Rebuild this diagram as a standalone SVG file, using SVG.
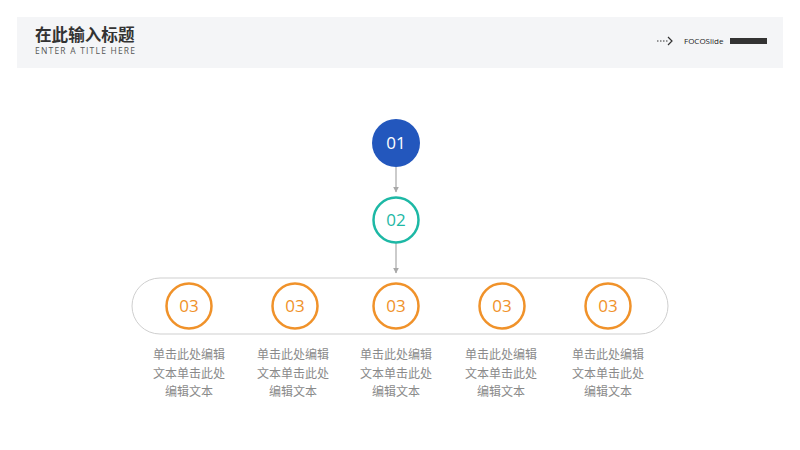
<svg xmlns="http://www.w3.org/2000/svg" width="800" height="450" viewBox="0 0 800 450">
<style>
.cn{font-family:"Noto Sans CJK SC","Noto Sans",sans-serif;}
.num{font-family:"Open Sans","Noto Sans",sans-serif;font-size:17px;text-anchor:middle;}
.desc{font-family:"Noto Sans CJK SC",sans-serif;font-size:12px;fill:#8a8a8a;text-anchor:middle;}
.o3{fill:#fff;stroke:#f0922a;stroke-width:2.5;}
.conn{stroke:#a8a8a8;stroke-width:1.2;fill:none;marker-end:url(#ah);}
</style>
<defs>
<marker id="ah" viewBox="0 0 10 10" refX="9" refY="5" markerWidth="6" markerHeight="6" markerUnits="userSpaceOnUse" orient="auto">
<path d="M0,0 L10,5 L0,10 z" fill="#a8a8a8"/>
</marker>
</defs>
<rect width="800" height="450" fill="#fff"/>
<g id="header">
<rect x="17" y="17" width="766" height="51" fill="#f4f5f7"/>
<text x="35" y="41" class="cn" font-size="16.6" font-weight="bold" fill="#333">在此输入标题</text>
<text x="35" y="54" font-family="'Open Sans','Noto Sans',sans-serif" font-size="8.5" fill="#555" letter-spacing="1.2">ENTER A TITLE HERE</text>
<path d="M657,41 H668" stroke="#333" stroke-width="1" stroke-dasharray="1.5,1.5"/>
<path d="M668,37 L672,41 L668,45" stroke="#333" stroke-width="1.2" fill="none"/>
<text x="684" y="44" font-family="'Open Sans','Noto Sans',sans-serif" font-size="8" fill="#222">FOCOSlide</text>
<rect x="730" y="38" width="37" height="6" fill="#333"/>
</g>
<g id="connectors">
<line class="conn" x1="396" y1="167" x2="396" y2="192"/>
<line class="conn" x1="396" y1="243" x2="396" y2="273"/>
</g>
<g id="node01">
<circle cx="396" cy="143" r="24" fill="#2357bd"/>
<text x="396" y="149" class="num" fill="#fff">01</text>
</g>
<g id="node02">
<circle cx="396" cy="220" r="22.5" fill="#fff" stroke="#1db8a5" stroke-width="2.5"/>
<text x="396" y="226" class="num" fill="#1db8a5">02</text>
</g>
<g id="container">
<rect x="132" y="278" width="536" height="56" rx="28" fill="#fff" stroke="#cfcfcf" stroke-width="1"/>
</g>
<g id="node03a">
<circle class="o3" cx="189" cy="306" r="22.5"/>
<text x="189" y="312" class="num" fill="#f0922a">03</text>
<text class="desc" x="189" y="359">单击此处编辑</text>
<text class="desc" x="189" y="378">文本单击此处</text>
<text class="desc" x="189" y="396">编辑文本</text>
</g>
<g id="node03b">
<circle class="o3" cx="295" cy="306" r="22.5"/>
<text x="295" y="312" class="num" fill="#f0922a">03</text>
<text class="desc" x="293" y="359">单击此处编辑</text>
<text class="desc" x="293" y="378">文本单击此处</text>
<text class="desc" x="293" y="396">编辑文本</text>
</g>
<g id="node03c">
<circle class="o3" cx="396" cy="306" r="22.5"/>
<text x="396" y="312" class="num" fill="#f0922a">03</text>
<text class="desc" x="396" y="359">单击此处编辑</text>
<text class="desc" x="396" y="378">文本单击此处</text>
<text class="desc" x="396" y="396">编辑文本</text>
</g>
<g id="node03d">
<circle class="o3" cx="502" cy="306" r="22.5"/>
<text x="502" y="312" class="num" fill="#f0922a">03</text>
<text class="desc" x="501" y="359">单击此处编辑</text>
<text class="desc" x="501" y="378">文本单击此处</text>
<text class="desc" x="501" y="396">编辑文本</text>
</g>
<g id="node03e">
<circle class="o3" cx="608" cy="306" r="22.5"/>
<text x="608" y="312" class="num" fill="#f0922a">03</text>
<text class="desc" x="608" y="359">单击此处编辑</text>
<text class="desc" x="608" y="378">文本单击此处</text>
<text class="desc" x="608" y="396">编辑文本</text>
</g>
</svg>
